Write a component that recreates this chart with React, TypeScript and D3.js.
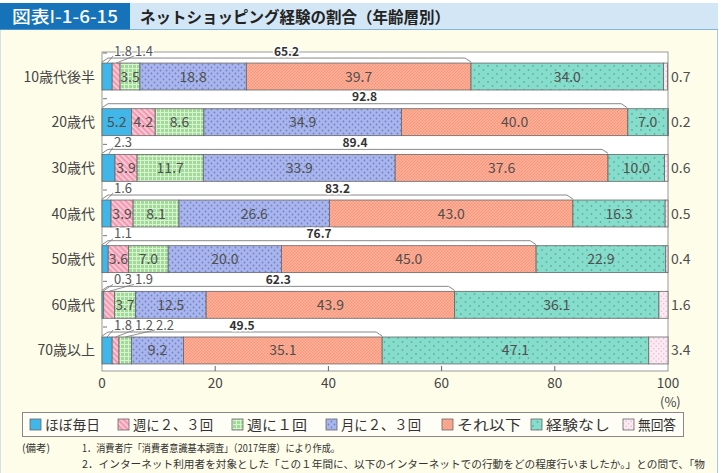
import React from "react";
import * as d3 from "d3";

// age groups, top to bottom
const categories = ["10歳代後半", "20歳代", "30歳代", "40歳代", "50歳代", "60歳代", "70歳以上"];
const seriesNames = ["ほぼ毎日", "週に２、３回", "週に１回", "月に２、３回", "それ以下", "経験なし", "無回答"];
// values in %
const daily = [1.8, 5.2, 2.3, 1.6, 1.1, 0.3, 1.8];
const twoThreeWeek = [1.4, 4.2, 3.9, 3.9, 3.6, 1.9, 1.2];
const onceWeek = [3.5, 8.6, 11.7, 8.1, 7.0, 3.7, 2.2];
const twoThreeMonth = [18.8, 34.9, 33.9, 26.6, 20.0, 12.5, 9.2];
const lessOften = [39.7, 40.0, 37.6, 43.0, 45.0, 43.9, 35.1];
const never = [34.0, 7.0, 10.0, 16.3, 22.9, 36.1, 47.1];
const noAnswer = [0.7, 0.2, 0.6, 0.5, 0.4, 1.6, 3.4];
// printed totals of the "experienced" bracket
const experienced = [65.2, 92.8, 89.4, 83.2, 76.7, 62.3, 49.5];
const xTicks = [0, 20, 40, 60, 80, 100];

const keys = ["daily", "w23", "w1", "m23", "less", "never", "na"];
const fills = ["#41b6e8", "url(#p-pink)", "url(#p-green)", "url(#p-blue)", "url(#p-salmon)", "url(#p-teal)", "url(#p-na)"];

const FONT = "'Noto Sans CJK JP', 'Noto Sans', sans-serif";

const rows = categories.map((c, i) => ({
  cat: c,
  daily: daily[i],
  w23: twoThreeWeek[i],
  w1: onceWeek[i],
  m23: twoThreeMonth[i],
  less: lessOften[i],
  never: never[i],
  na: noAnswer[i],
}));

export default function App() {
  const width = 723;
  const height = 473;

  const x = d3.scaleLinear().domain([0, 100]).range([102, 668]);
  const y = d3.scaleBand().domain(categories).range([53.7, 373.3]).paddingInner(0.41).paddingOuter(0.205);
  const bh = y.bandwidth();

  const stacked = d3.stack<any>().keys(keys)(rows);

  const legendX = [30, 118, 232, 326, 442, 531, 623];
  const legendW = [55, 80, 60, 80, 64, 64, 38];

  return (
    <svg width={width} height={height} style={{ position: "absolute", left: 0, top: 0 }} fontFamily={FONT}>
      <defs>
        <pattern id="p-pink" width="4" height="4" patternUnits="userSpaceOnUse" patternTransform="rotate(-45)">
          <rect width="4" height="4" fill="#f59ab0" />
          <rect width="1.4" height="4" fill="#fcd9e3" />
        </pattern>
        <pattern id="p-green" width="4" height="4" patternUnits="userSpaceOnUse">
          <rect width="4" height="4" fill="#9fda96" />
          <rect width="4" height="1" fill="#d9f3d2" />
          <rect width="1" height="4" fill="#d9f3d2" />
        </pattern>
        <pattern id="p-blue" width="6" height="6" patternUnits="userSpaceOnUse">
          <rect width="6" height="6" fill="#aab6ea" />
          <circle cx="1.5" cy="1.5" r="0.9" fill="#6b82d6" />
          <circle cx="4.5" cy="4.5" r="0.9" fill="#6b82d6" />
        </pattern>
        <pattern id="p-salmon" width="3" height="3" patternUnits="userSpaceOnUse">
          <rect width="3" height="3" fill="#f99577" />
          <rect width="1.5" height="1.5" fill="#fdb7a2" />
          <rect x="1.5" y="1.5" width="1.5" height="1.5" fill="#fdb7a2" />
        </pattern>
        <pattern id="p-teal" width="9" height="8" patternUnits="userSpaceOnUse">
          <rect width="9" height="8" fill="#88dccb" />
          <circle cx="2" cy="2" r="0.9" fill="#47bca2" />
          <circle cx="6.5" cy="6" r="0.9" fill="#47bca2" />
        </pattern>
        <pattern id="p-na" width="5" height="5" patternUnits="userSpaceOnUse">
          <rect width="5" height="5" fill="#fceaf3" />
          <circle cx="1.2" cy="1.2" r="0.7" fill="#e9b3cf" />
          <circle cx="3.7" cy="3.7" r="0.7" fill="#e9b3cf" />
        </pattern>
      </defs>

      {/* page background + title bar */}
      <rect x={0} y={0} width={width} height={height} fill="#ffffff" />
      <rect x={0} y={29.5} width={717.5} height={height} fill="#fefde9" stroke="#a6c8e4" />
      <rect x={0} y={3} width={718} height={26.5} fill="#d3e6f5" />
      <line x1={0} x2={718} y1={29.5} y2={29.5} stroke="#84b3da" />
      <rect x={0} y={3} width={130} height={26.5} fill="#1673b9" />
      <text x={12} y={22.5} fill="#ffffff" fontSize={17} fontWeight={500} textLength={106} lengthAdjust="spacingAndGlyphs">
        図表<tspan fontFamily="'DejaVu Sans', sans-serif">Ⅰ</tspan>-1-6-15
      </text>
      <text x={140} y={22.5} fill="#222" fontSize={15.5} fontWeight={700}>ネットショッピング経験の割合（年齢層別）</text>

      {/* plot frame */}
      <rect x={x(0)} y={52} width={x(100) - x(0)} height={319} fill="#ffffff" stroke="#999" />
      {xTicks.slice(1, -1).map(t => (
        <line key={t} x1={x(t)} x2={x(t)} y1={371} y2={366} stroke="#666" />
      ))}
      {xTicks.map(t => (
        <text key={t} x={x(t)} y={388} textAnchor="middle" fontSize={13.5} fill="#444">{t}</text>
      ))}
      <text x={x(100) - 8} y={407} fontSize={13} fill="#444">(%)</text>

      {/* stacked segments */}
      {stacked.map((s, si) => (
        <g key={s.key}>
          {s.map((d, i) => (
            <rect key={i} x={x(d[0])} y={y(categories[i])!} width={x(d[1]) - x(d[0])} height={bh}
              fill={fills[si]} stroke="#666" strokeWidth={0.8} />
          ))}
        </g>
      ))}

      {/* values inside the bars */}
      {stacked.slice(0, 6).map(s => s.map((d, i) => {
        const v = d[1] - d[0];
        if (v < 3) return null;
        return (
          <text key={s.key + i} x={(x(d[0]) + x(d[1])) / 2} y={y(categories[i])! + bh / 2 + 5}
            textAnchor="middle" fontSize={14} fill="#4f4f4f">{(rows[i] as any)[s.key].toFixed(1)}</text>
        );
      }))}

      {/* no answer, right of the frame */}
      {noAnswer.map((v, i) => (
        <text key={i} x={671} y={y(categories[i])! + bh / 2 + 5} fontSize={14} fill="#4f4f4f">{v.toFixed(1)}</text>
      ))}

      {/* brackets for shopping experience + small values with leaders */}
      {categories.map((c, i) => {
        const T = y(c)!;
        const x0 = x(0);
        const xe = x(experienced[i]);
        const small = stacked.slice(0, 6).map(s => s[i]).filter(d => d[1] - d[0] < 3);
        return (
          <g key={c}>
            <polyline points={`${x0},${T - 1} ${x0 + 6},${T - 5} ${xe - 6},${T - 5} ${xe},${T - 1}`}
              fill="none" stroke="#888" strokeWidth={1} />
            <line x1={x0 + 1} x2={x0 + 5} y1={T - 10} y2={T - 10} stroke="#777" />
            <text x={(x0 + xe) / 2} y={T - 7.5} textAnchor="middle" fontSize={12} fontWeight={700} fill="#333"
              stroke="#ffffff" strokeWidth={3} paintOrder="stroke">{experienced[i].toFixed(1)}</text>
            {small.map((d, j) => {
              const lx = 114 + j * 21;
              const xm = (x(d[0]) + x(d[1])) / 2;
              return (
                <g key={j}>
                  <line x1={xm} y1={T} x2={lx - 1} y2={T - 7} stroke="#777" strokeWidth={0.8} />
                  <text x={lx} y={T - 7.5} fontSize={13} fill="#555" stroke="#ffffff" strokeWidth={2} paintOrder="stroke">
                    {(d[1] - d[0]).toFixed(1)}
                  </text>
                </g>
              );
            })}
          </g>
        );
      })}

      {/* category labels */}
      {categories.map(c => (
        <text key={c} x={95} y={y(c)! + bh / 2 + 5} textAnchor="end" fontSize={14} fill="#444">{c}</text>
      ))}

      {/* legend */}
      <rect x={22.5} y={412.5} width={661} height={24} fill="#fffef6" stroke="#888" />
      {seriesNames.map((n, i) => (
        <g key={n}>
          <rect x={legendX[i]} y={419} width={11} height={11} fill={fills[i]} stroke="#666" strokeWidth={0.8} />
          <text x={legendX[i] + 15} y={429.5} fontSize={14} fill="#333" textLength={legendW[i]} lengthAdjust="spacingAndGlyphs">{n}</text>
        </g>
      ))}

      {/* notes */}
      <text x={22} y={452} fontSize={10.5} fill="#333">(備考)</text>
      <text x={82} y={452} fontSize={10.5} fill="#333" textLength={258} lengthAdjust="spacingAndGlyphs">1．消費者庁「消費者意識基本調査」（2017年度）により作成。</text>
      <text x={82} y={468} fontSize={10.5} fill="#333" textLength={623} lengthAdjust="spacingAndGlyphs">2．インターネット利用者を対象とした「この１年間に、以下のインターネットでの行動をどの程度行いましたか。」との問で、「物</text>
    </svg>
  );
}
